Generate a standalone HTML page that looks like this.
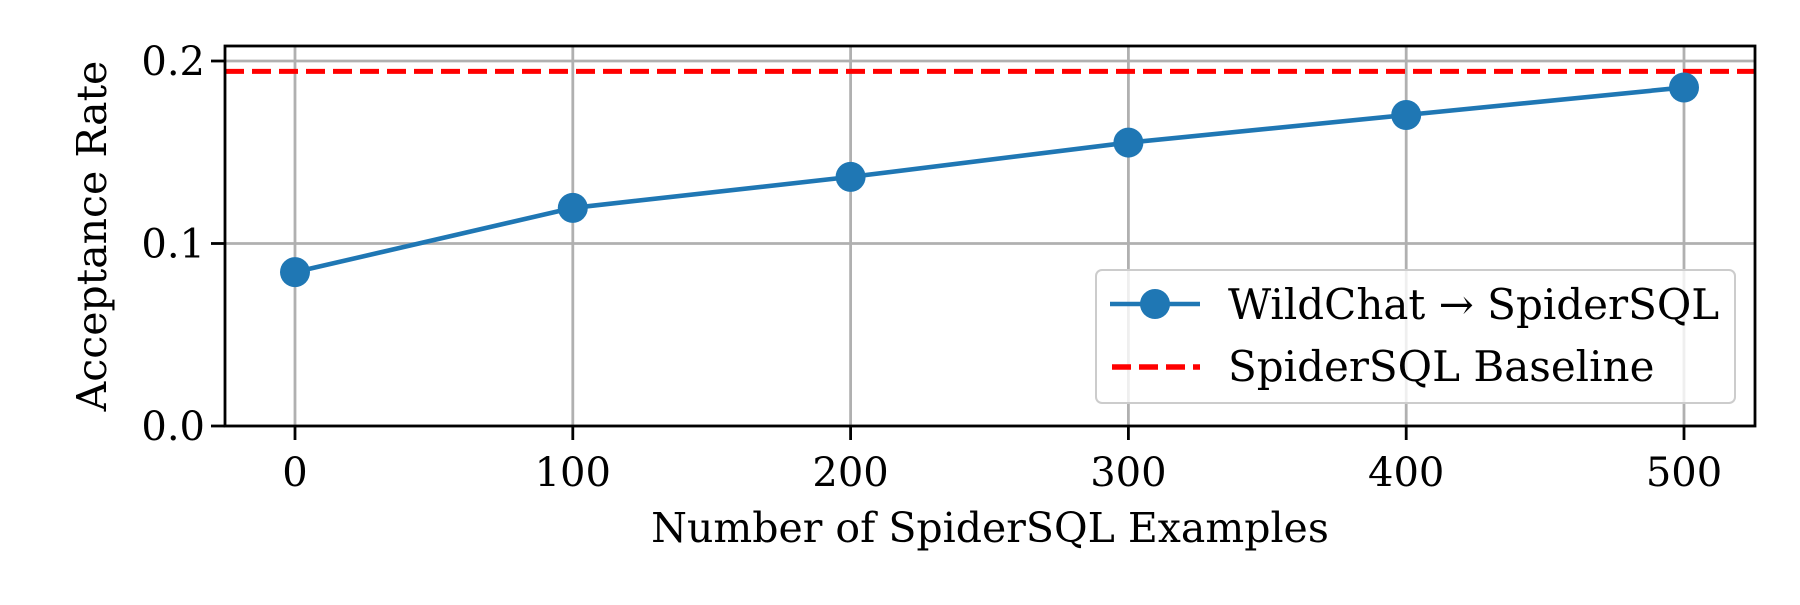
<!DOCTYPE html>
<html><head><meta charset="utf-8"><style>
body{margin:0;background:#fff}
svg text{font-family:"DejaVu Serif","Liberation Serif",serif;fill:#000}
</style></head><body>
<svg id="chart" width="1800" height="600">
<g id="grid"></g>
<g id="marks"></g>
<rect x="225" y="46" width="1530" height="380" fill="none" stroke="#000" stroke-width="2.8"/>
<g id="ticks"></g>
<text x="990" y="542" font-size="41" text-anchor="middle">Number of SpiderSQL Examples</text>
<text transform="translate(106,236) rotate(-90)" font-size="41" text-anchor="middle">Acceptance Rate</text>
<g>
<rect x="1096" y="270" width="639" height="133" rx="6" fill="#fff" fill-opacity="0.8" stroke="#ccc" stroke-width="2"/>
<line x1="1110" y1="304" x2="1200" y2="304" stroke="#1f77b4" stroke-width="4.6"/>
<circle cx="1155" cy="304" r="15" fill="#1f77b4"/>
<text x="1228" y="319" font-size="42">WildChat → SpiderSQL</text>
<line x1="1112" y1="367" x2="1200" y2="367" stroke="#ff0000" stroke-width="5.5" stroke-dasharray="19,8"/>
<text x="1228" y="381" font-size="42">SpiderSQL Baseline</text>
</g>
</svg>
<script>
const xValues=[0,100,200,300,400,500];
const yValues=[0.0843,0.1195,0.1365,0.1553,0.1704,0.1855];
const baseline=0.1943;
const xTicks=[0,100,200,300,400,500];
const yTicks=[0.0,0.1,0.2];
const yTickLabels=["0.0","0.1","0.2"];
const NS="http://www.w3.org/2000/svg";
const sx=v=>295+(1684-295)*v/500;
const sy=v=>426-(v/0.1)*182.5;
function mk(tag,attrs,parent){const e=document.createElementNS(NS,tag);for(const k in attrs)e.setAttribute(k,attrs[k]);document.getElementById(parent).appendChild(e);return e;}
xTicks.forEach(t=>{
 const g=mk('line',{x1:sx(t),x2:sx(t),y1:46,y2:426,stroke:'#b0b0b0','stroke-width':2.8},'grid');
 
 
 const tk=mk('line',{x1:sx(t),x2:sx(t),y1:426,y2:440,stroke:'#000','stroke-width':2.8},'ticks');
 
 
 const tl=mk('text',{x:sx(t),y:486,'font-size':40,'text-anchor':'middle'},'ticks');
 tl.textContent=t;
 
 
});
yTicks.forEach((t,i)=>{
 const g=mk('line',{x1:225,x2:1755,y1:sy(t),y2:sy(t),stroke:'#b0b0b0','stroke-width':2.8},'grid');
 
 
 const tk=mk('line',{x1:211,x2:225,y1:sy(t),y2:sy(t),stroke:'#000','stroke-width':2.8},'ticks');
 
 
 const tl=mk('text',{x:205,y:sy(t)+14,'font-size':40,'text-anchor':'end'},'ticks');
 tl.textContent=yTickLabels[i];
 
 
});
const bl=mk('line',{x1:225,x2:1755,y1:sy(baseline),y2:sy(baseline),stroke:'#ff0000','stroke-width':5,'stroke-dasharray':'19,8'},'marks');


const pl=mk('polyline',{points:xValues.map((x,i)=>sx(x)+','+sy(yValues[i])).join(' '),fill:'none',stroke:'#1f77b4','stroke-width':4.6},'marks');


xValues.forEach((x,i)=>{
 const c=mk('circle',{cx:sx(x),cy:sy(yValues[i]),r:15,fill:'#1f77b4'},'marks');
 
 
});
</script>
</body></html>
